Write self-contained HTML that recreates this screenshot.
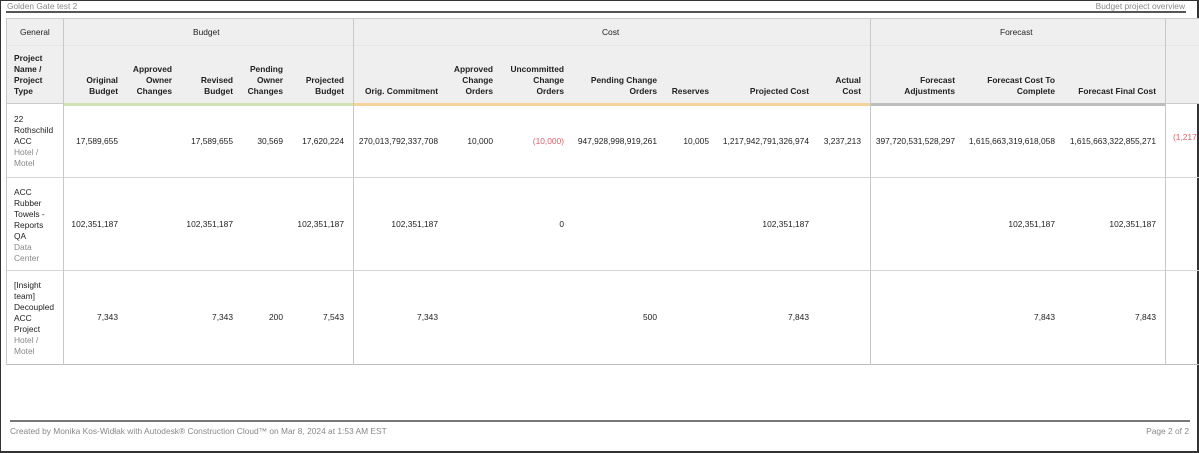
<!DOCTYPE html>
<html><head><meta charset="utf-8"><style>
*{margin:0;padding:0;box-sizing:border-box}
body{width:1199px;height:453px;background:#fff;position:relative;overflow:hidden;font-family:"Liberation Sans",sans-serif;font-size:8.4px;color:#222}
.a{position:absolute;white-space:nowrap;line-height:11px}
.r{text-align:right}
.b{font-weight:bold}
.g{color:#888}
.red{color:#e0606a}
.vl{position:absolute;width:1px;background:#c8c8c8}
.hl{position:absolute;height:1px;background:#d4d4d4}
</style></head><body>
<div style="position:absolute;left:0;top:0;width:1199px;height:453px;border:1px solid #333;border-right:2px solid #333;border-bottom:2px solid #333"></div>
<div class="a g" style="left:7px;top:1px">Golden Gate test 2</div>
<div class="a g" style="right:14px;top:1px">Budget project overview</div>
<div style="position:absolute;left:6px;top:11px;width:1180px;height:2px;background:#555"></div>

<div style="position:absolute;left:6px;top:18px;width:1193px;height:86px;background:#efefef;border-top:1px solid #ccc"></div>
<div class="hl" style="left:6px;top:45px;width:1193px;background:#e6e6e6"></div>
<div style="position:absolute;left:63px;top:103px;width:290px;height:3px;background:#cfe3b6"></div>
<div style="position:absolute;left:353px;top:103px;width:517px;height:3px;background:#f5d49c"></div>
<div style="position:absolute;left:870px;top:103px;width:295px;height:3px;background:#bdbdbd"></div>
<div class="hl" style="left:6px;top:103px;width:57px;background:#ccc"></div>
<div class="hl" style="left:1165px;top:103px;width:34px;background:#ccc"></div>

<div class="hl" style="left:6px;top:177px;width:1193px"></div>
<div class="hl" style="left:6px;top:270px;width:1193px"></div>
<div class="hl" style="left:6px;top:364px;width:1193px;background:#bbb"></div>
<div class="vl" style="left:6px;top:18px;height:347px"></div>
<div class="vl" style="left:63px;top:18px;height:347px"></div>
<div class="vl" style="left:353px;top:18px;height:347px"></div>
<div class="vl" style="left:870px;top:18px;height:347px"></div>
<div class="vl" style="left:1165px;top:18px;height:347px"></div>

<div class="a" style="left:20px;top:27px">General</div>
<div class="a" style="left:193px;top:27px">Budget</div>
<div class="a" style="left:602px;top:27px">Cost</div>
<div class="a" style="left:1000px;top:27px">Forecast</div>

<div class="a b" style="left:14px;top:53px">Project<br>Name /<br>Project<br>Type</div>
<div class="a b r" style="right:1081px;top:75px">Original<br>Budget</div>
<div class="a b r" style="right:1027px;top:64px">Approved<br>Owner<br>Changes</div>
<div class="a b r" style="right:966px;top:75px">Revised<br>Budget</div>
<div class="a b r" style="right:916px;top:64px">Pending<br>Owner<br>Changes</div>
<div class="a b r" style="right:855px;top:75px">Projected<br>Budget</div>
<div class="a b r" style="right:761px;top:86px">Orig. Commitment</div>
<div class="a b r" style="right:706px;top:64px">Approved<br>Change<br>Orders</div>
<div class="a b r" style="right:635px;top:64px">Uncommitted<br>Change<br>Orders</div>
<div class="a b r" style="right:542px;top:75px">Pending Change<br>Orders</div>
<div class="a b r" style="right:490px;top:86px">Reserves</div>
<div class="a b r" style="right:390px;top:86px">Projected Cost</div>
<div class="a b r" style="right:338px;top:75px">Actual<br>Cost</div>
<div class="a b r" style="right:244px;top:75px">Forecast<br>Adjustments</div>
<div class="a b r" style="right:144px;top:75px">Forecast Cost To<br>Complete</div>
<div class="a b r" style="right:43px;top:86px">Forecast Final Cost</div>

<div class="a" style="left:14px;top:114px">22<br>Rothschild<br>ACC<br><span class="g">Hotel /<br>Motel</span></div>
<div class="a r" style="right:1081px;top:136px">17,589,655</div>
<div class="a r" style="right:966px;top:136px">17,589,655</div>
<div class="a r" style="right:916px;top:136px">30,569</div>
<div class="a r" style="right:855px;top:136px">17,620,224</div>
<div class="a r" style="right:761px;top:136px">270,013,792,337,708</div>
<div class="a r" style="right:706px;top:136px">10,000</div>
<div class="a r red" style="right:635px;top:136px">(10,000)</div>
<div class="a r" style="right:542px;top:136px">947,928,998,919,261</div>
<div class="a r" style="right:490px;top:136px">10,005</div>
<div class="a r" style="right:390px;top:136px">1,217,942,791,326,974</div>
<div class="a r" style="right:338px;top:136px">3,237,213</div>
<div class="a r" style="right:244px;top:136px">397,720,531,528,297</div>
<div class="a r" style="right:144px;top:136px">1,615,663,319,618,058</div>
<div class="a r" style="right:43px;top:136px">1,615,663,322,855,271</div>
<div class="a red" style="left:1173px;top:132px">(1,217</div>

<div class="a" style="left:14px;top:187px">ACC<br>Rubber<br>Towels -<br>Reports<br>QA<br><span class="g">Data<br>Center</span></div>
<div class="a r" style="right:1081px;top:219px">102,351,187</div>
<div class="a r" style="right:966px;top:219px">102,351,187</div>
<div class="a r" style="right:855px;top:219px">102,351,187</div>
<div class="a r" style="right:761px;top:219px">102,351,187</div>
<div class="a r" style="right:635px;top:219px">0</div>
<div class="a r" style="right:390px;top:219px">102,351,187</div>
<div class="a r" style="right:144px;top:219px">102,351,187</div>
<div class="a r" style="right:43px;top:219px">102,351,187</div>

<div class="a" style="left:14px;top:280px">[Insight<br>team]<br>Decoupled<br>ACC<br>Project<br><span class="g">Hotel /<br>Motel</span></div>
<div class="a r" style="right:1081px;top:312px">7,343</div>
<div class="a r" style="right:966px;top:312px">7,343</div>
<div class="a r" style="right:916px;top:312px">200</div>
<div class="a r" style="right:855px;top:312px">7,543</div>
<div class="a r" style="right:761px;top:312px">7,343</div>
<div class="a r" style="right:542px;top:312px">500</div>
<div class="a r" style="right:390px;top:312px">7,843</div>
<div class="a r" style="right:144px;top:312px">7,843</div>
<div class="a r" style="right:43px;top:312px">7,843</div>

<div style="position:absolute;left:10px;top:420px;width:1180px;height:2px;background:#777"></div>
<div class="a g" style="left:10px;top:426px">Created by Monika Kos-Widłak with Autodesk® Construction Cloud™ on Mar 8, 2024 at 1:53 AM EST</div>
<div class="a g" style="right:10px;top:426px">Page 2 of 2</div>
</body></html>
